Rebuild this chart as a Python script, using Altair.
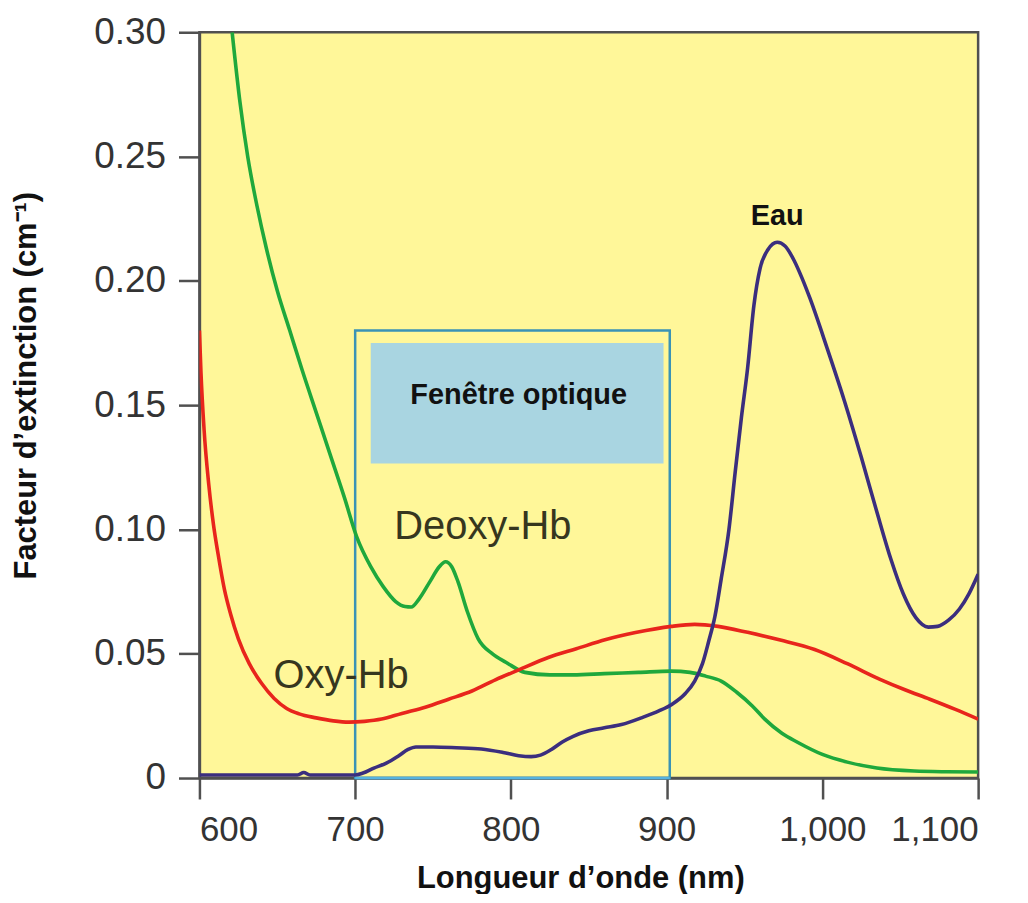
import altair as alt
import pandas as pd

# ---------------- data ----------------
series = ["Deoxy-Hb", "Oxy-Hb", "Eau"]
series_colors = ["#1fa83c", "#e8251c", "#3b2e7e"]

deoxy_nm = [621, 626, 631, 637, 643, 650, 658, 666, 675, 684, 693, 701, 710, 718, 726, 732,
            736, 741, 748, 754, 758, 762, 766, 772, 779, 788, 797, 809, 825, 840, 860, 882,
            903, 915, 925, 935, 945, 955, 963, 974, 984, 1000, 1016, 1035, 1059, 1080, 1100]
deoxy_val = [0.300, 0.272, 0.250, 0.230, 0.213, 0.196, 0.180, 0.164, 0.147, 0.130, 0.113, 0.097,
             0.085, 0.077, 0.071, 0.069, 0.0688, 0.072, 0.079, 0.085, 0.087, 0.085, 0.079, 0.067,
             0.056, 0.050, 0.0465, 0.0425, 0.0415, 0.0415, 0.042, 0.0425, 0.043, 0.0425, 0.041,
             0.039, 0.0345, 0.029, 0.0237, 0.018, 0.0144, 0.0095, 0.0064, 0.004, 0.0028, 0.0025,
             0.0024]

oxy_nm = [600, 601, 603, 606, 609, 612, 616, 620, 625, 632, 640, 648, 656, 664, 675, 686, 696,
          706, 717, 730, 745, 760, 775, 790, 805, 824, 842, 861, 880, 903, 918, 933, 952, 973,
          995, 1016, 1037, 1053, 1069, 1085, 1100]
oxy_val = [0.180, 0.163, 0.140, 0.118, 0.102, 0.090, 0.076, 0.066, 0.056, 0.046, 0.038, 0.032,
           0.028, 0.0258, 0.0242, 0.023, 0.0225, 0.0228, 0.0237, 0.026, 0.0285, 0.0317, 0.035,
           0.0395, 0.0435, 0.0485, 0.052, 0.0557, 0.0585, 0.061, 0.0618, 0.061, 0.0586, 0.0555,
           0.0517, 0.046, 0.0397, 0.0355, 0.0317, 0.0277, 0.0237]

eau_nm = [600, 640, 663, 667, 671, 700, 705, 712, 720, 728, 734, 739, 750, 765, 781, 795, 805,
          813, 819, 826, 833, 840, 850, 860, 871, 885, 895, 903, 912, 918, 923, 927, 931, 935,
          940, 944, 948, 952, 956, 960, 965, 971, 976, 982, 987, 992, 1003, 1014, 1025, 1035,
          1044, 1052, 1060, 1068, 1074, 1081, 1088, 1094, 1100]
eau_val = [0.0012, 0.0012, 0.0012, 0.0022, 0.0012, 0.0012, 0.002, 0.004, 0.006, 0.009, 0.0115,
           0.0125, 0.0125, 0.0122, 0.0117, 0.0103, 0.009, 0.0086, 0.0092, 0.0115, 0.0145, 0.0168,
           0.019, 0.0202, 0.0215, 0.0245, 0.027, 0.0295, 0.034, 0.039, 0.046, 0.055, 0.065, 0.080,
           0.100, 0.123, 0.145, 0.165, 0.190, 0.205, 0.2125, 0.2155, 0.214, 0.208, 0.201, 0.193,
           0.173, 0.152, 0.129, 0.107, 0.088, 0.074, 0.0645, 0.0607, 0.061, 0.0635, 0.068,
           0.074, 0.082]

x_ticks = [600, 700, 800, 900, 1000, 1100]
y_ticks = [0, 0.05, 0.10, 0.15, 0.20, 0.25, 0.30]

# optical window (outer frame) and its label panel
window_nm = [700, 902]
window_val = [0, 0.18]
panel_nm = [710, 898]
panel_val = [0.1265, 0.175]

label_text_regular = ["Deoxy-Hb", "Oxy-Hb"]
label_nm_regular = [782, 691]
label_val_regular = [0.101, 0.041]

label_text_bold = ["Eau", "Fenêtre optique"]
label_nm_bold = [971, 805]
label_val_bold = [0.226, 0.154]
label_size_bold = [29, 29]

# ---------------- tables ----------------
lines = pd.concat([
    pd.DataFrame({"nm": deoxy_nm, "val": deoxy_val, "series": series[0]}),
    pd.DataFrame({"nm": oxy_nm, "val": oxy_val, "series": series[1]}),
    pd.DataFrame({"nm": eau_nm, "val": eau_val, "series": series[2]}),
], ignore_index=True)

window_df = pd.DataFrame({"nm": [window_nm[0]], "nm2": [window_nm[1]],
                          "val": [window_val[0]], "val2": [window_val[1]]})
panel_df = pd.DataFrame({"nm": [panel_nm[0]], "nm2": [panel_nm[1]],
                         "val": [panel_val[0]], "val2": [panel_val[1]]})
reg_df = pd.DataFrame({"nm": label_nm_regular, "val": label_val_regular, "label": label_text_regular})
bold_df = pd.DataFrame({"nm": label_nm_bold, "val": label_val_bold, "label": label_text_bold,
                        "fs": label_size_bold})

FONT = "Liberation Sans"

xscale = alt.Scale(domain=[600, 1100], nice=False, zero=False)
yscale = alt.Scale(domain=[0, 0.30], nice=False)

xaxis = alt.Axis(values=x_ticks, format=",d", title="Longueur d’onde (nm)",
                 labelFontSize=35, labelPadding=14,
                 titleX=382, titleY=101, titleAlign="center", titleBaseline="middle",
                 titleFontSize=31, titleFontWeight="bold", titleColor="#111")
yaxis = alt.Axis(values=y_ticks,
                 labelExpr="datum.value == 0 ? '0' : format(datum.value, '.2f')",
                 labelFontSize=37,
                 title="Facteur d’extinction (cm⁻¹)",
                 titleX=-173, titleY=354, titleAngle=270, titleAlign="center",
                 titleBaseline="middle", titleFontSize=31, titleFontWeight="bold",
                 titleColor="#111")


def X(field):
    return alt.X(field, type="quantitative", scale=xscale, axis=xaxis)


def Y(field):
    return alt.Y(field, type="quantitative", scale=yscale, axis=yaxis)


panel = alt.Chart(panel_df).mark_rect(color="#a9d5e1").encode(
    x=X("nm"), x2="nm2", y=Y("val"), y2="val2")

frame = alt.Chart(window_df).mark_rect(fill="transparent", stroke="#3a93b5",
                                       strokeWidth=2.5).encode(
    x=X("nm"), x2="nm2", y=Y("val"), y2="val2")

curves = alt.Chart(lines).mark_line(strokeWidth=3.6, interpolate="monotone", clip=True).encode(
    x=X("nm"), y=Y("val"),
    color=alt.Color("series:N", scale=alt.Scale(domain=series, range=series_colors), legend=None),
    detail="series:N")

bottom_edge = alt.Chart(window_df).mark_rule(color="#55b3e0", strokeWidth=2.5).encode(
    x=X("nm"), x2="nm2", y=Y("val"))

reg_text = alt.Chart(reg_df).mark_text(font=FONT, fontSize=40, color="#36361e",
                                       align="center", baseline="middle").encode(
    x=X("nm"), y=Y("val"), text="label:N")

bold_text = alt.Chart(bold_df).mark_text(font=FONT, fontWeight="bold", color="#111",
                                         align="center", baseline="middle").encode(
    x=X("nm"), y=Y("val"), text="label:N", size=alt.Size("fs:Q", scale=None, legend=None))

chart = alt.layer(panel, frame, curves, bottom_edge, reg_text, bold_text).properties(
    width=781, height=748,
    padding={"left": 192, "top": 23, "right": 42, "bottom": 115},
    autosize=alt.AutoSizeParams(type="none"),
).configure_view(
    fill="#fff799", stroke="#505050", strokeWidth=2.5
).configure_axis(
    grid=False, domainColor="#505050", domainWidth=2.5, tickColor="#505050", tickWidth=2.5,
    tickSize=21, labelFont=FONT, labelColor="#333", labelPadding=13,
    titleFont=FONT, zindex=0
)

chart.save("out.html", embed_options={"renderer": "svg", "actions": False})
